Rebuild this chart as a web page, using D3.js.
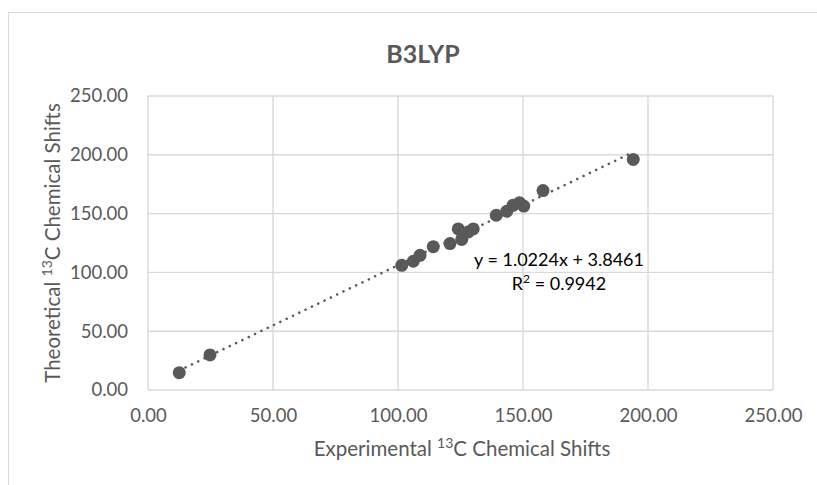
<!DOCTYPE html>
<html>
<head>
<meta charset="utf-8">
<script src="https://cdn.jsdelivr.net/npm/d3@7/dist/d3.min.js"></script>
<style>
  html, body { margin: 0; padding: 0; background: #ffffff; }
  svg { display: block; }
</style>
</head>
<body>
<svg id="chart" width="817" height="485"></svg>
<script>
// Experimental vs. calculated 13C shifts (B3LYP)
const experimental = [12.5, 24.8, 101.5, 106.1, 108.8, 114.1, 120.8, 124.1, 125.5, 128.1, 130.1, 139.3, 143.5, 146.0, 148.6, 150.3, 158.0, 194.1];
const theoretical  = [14.7, 29.8, 106.0, 109.5, 114.5, 121.9, 124.5, 137.0, 128.0, 134.4, 137.0, 148.6, 152.0, 157.0, 159.2, 156.4, 169.6, 196.1];
const xTicks = [0, 50, 100, 150, 200, 250];
const yTicks = [0, 50, 100, 150, 200, 250];
const fitSlope = 1.0224;
const fitIntercept = 3.8461;
const fitR2 = 0.9942;

const svg = d3.select("#chart");
const font = "Lato, 'Open Sans', sans-serif";
const textColor = "#595959";
const gridColor = "#d9d9d9";

// outer chart frame
svg.append("rect")
  .attr("x", 8.5).attr("y", 12.5)
  .attr("width", 900).attr("height", 600)
  .attr("fill", "#fff").attr("stroke", gridColor).attr("stroke-width", 1);

const plot = { left: 148, right: 773, top: 96, bottom: 390 };

const x = d3.scaleLinear().domain([0, 250]).range([plot.left, plot.right]);
const y = d3.scaleLinear().domain([0, 250]).range([plot.bottom, plot.top]);

// gridlines
const grid = svg.append("g");
grid.selectAll("line.v").data(xTicks).join("line")
  .attr("x1", d => x(d)).attr("x2", d => x(d))
  .attr("y1", plot.top).attr("y2", plot.bottom)
  .attr("stroke", gridColor).attr("stroke-width", 1.4);
grid.selectAll("line.h").data(yTicks).join("line")
  .attr("y1", d => y(d)).attr("y2", d => y(d))
  .attr("x1", plot.left).attr("x2", plot.right)
  .attr("stroke", gridColor).attr("stroke-width", 1.4);

// axes (labels only, Excel style)
const xAxis = d3.axisBottom(x).tickValues(xTicks).tickFormat(d3.format(".2f")).tickSize(0).tickPadding(19);
const yAxis = d3.axisLeft(y).tickValues(yTicks).tickFormat(d3.format(".2f")).tickSize(0).tickPadding(20);

const gx = svg.append("g").attr("transform", `translate(0,${plot.bottom})`).call(xAxis);
const gy = svg.append("g").attr("transform", `translate(${plot.left},0)`).call(yAxis);
[gx, gy].forEach(g => {
  g.select(".domain").remove();
  g.selectAll("text").attr("fill", textColor).style("font-family", font).style("font-size", "18.5px");
});

// trendline (linear fit)
const xMin = d3.min(experimental), xMax = d3.max(experimental);
svg.append("line")
  .attr("x1", x(xMin)).attr("y1", y(fitSlope * xMin + fitIntercept))
  .attr("x2", x(xMax)).attr("y2", y(fitSlope * xMax + fitIntercept))
  .attr("stroke", textColor).attr("stroke-width", 2.6)
  .attr("stroke-linecap", "round")
  .attr("stroke-dasharray", "0.01 7");

// points
const pts = experimental.map((e, i) => ({ e, t: theoretical[i] }));
svg.append("g").selectAll("circle").data(pts).join("circle")
  .attr("cx", d => x(d.e)).attr("cy", d => y(d.t))
  .attr("r", 6.5).attr("fill", textColor);

// equation label
const eq = svg.append("g").attr("fill", "#000").style("font-family", font).style("font-size", "18px").attr("text-anchor", "middle");
eq.append("text").attr("x", 559).attr("y", 266)
  .text(`y = ${fitSlope}x + ${fitIntercept}`);
const r2 = eq.append("text").attr("x", 559).attr("y", 290);
r2.append("tspan").text("R");
r2.append("tspan").attr("dy", -7).style("font-size", "12px").text("2");
r2.append("tspan").attr("dy", 7).text(` = ${fitR2}`);

// title
svg.append("text")
  .attr("x", 423).attr("y", 63)
  .attr("text-anchor", "middle")
  .attr("fill", textColor)
  .style("font-family", font).style("font-weight", "bold").style("font-size", "25px")
  .text("B3LYP");

// axis titles
const xt = svg.append("text")
  .attr("x", 462).attr("y", 456)
  .attr("text-anchor", "middle").attr("fill", textColor)
  .style("font-family", font).style("font-size", "20.5px");
xt.append("tspan").text("Experimental ");
xt.append("tspan").attr("dy", -8).style("font-size", "14px").text("13");
xt.append("tspan").attr("dy", 8).text("C Chemical Shifts");

const yt = svg.append("text")
  .attr("transform", `translate(60,${(plot.top + plot.bottom) / 2}) rotate(-90)`)
  .attr("text-anchor", "middle").attr("fill", textColor)
  .style("font-family", font).style("font-size", "20.5px");
yt.append("tspan").text("Theoretical ");
yt.append("tspan").attr("dy", -8).style("font-size", "14px").text("13");
yt.append("tspan").attr("dy", 8).text("C Chemical Shifts");
</script>
</body>
</html>
